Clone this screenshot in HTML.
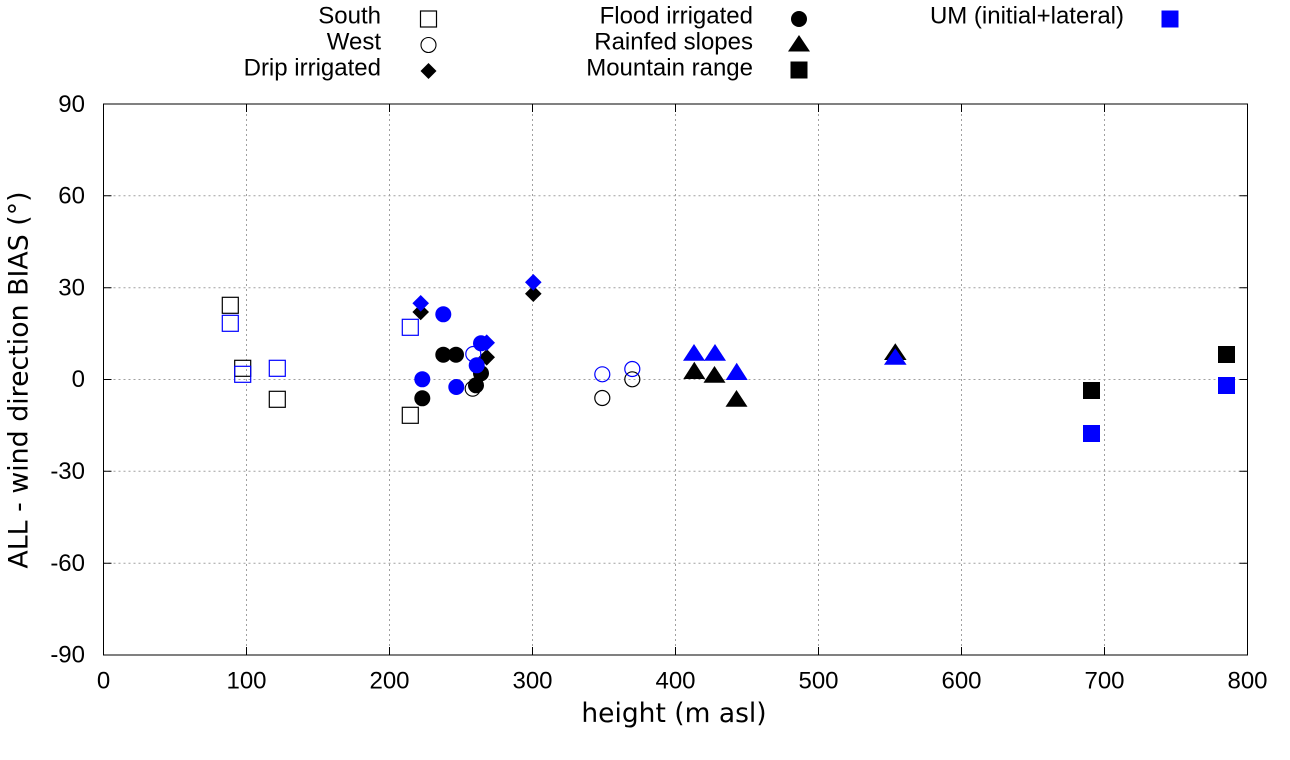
<!DOCTYPE html>
<html><head><meta charset="utf-8"><style>
html,body{margin:0;padding:0;background:#fff;}
svg{display:block;}
text{font-family:"Liberation Sans",Arial,sans-serif;fill:#000;}
.lab{font-family:"DejaVu Sans","Liberation Sans",sans-serif;}
</style></head><body>
<svg width="1290" height="760" viewBox="0 0 1290 760" xmlns="http://www.w3.org/2000/svg">
<rect x="0" y="0" width="1290" height="760" fill="#fff"/>
<!-- grid -->
<g stroke="#a0a0a0" stroke-width="1" stroke-dasharray="2,3" fill="none">
<line x1="246.5" y1="104" x2="246.5" y2="655"/>
<line x1="389.5" y1="104" x2="389.5" y2="655"/>
<line x1="532.5" y1="104" x2="532.5" y2="655"/>
<line x1="675.5" y1="104" x2="675.5" y2="655"/>
<line x1="818.5" y1="104" x2="818.5" y2="655"/>
<line x1="961.5" y1="104" x2="961.5" y2="655"/>
<line x1="1104.5" y1="104" x2="1104.5" y2="655"/>
<line x1="103.5" y1="195.8" x2="1247.5" y2="195.8"/>
<line x1="103.5" y1="287.7" x2="1247.5" y2="287.7"/>
<line x1="103.5" y1="379.5" x2="1247.5" y2="379.5"/>
<line x1="103.5" y1="471.3" x2="1247.5" y2="471.3"/>
<line x1="103.5" y1="563.2" x2="1247.5" y2="563.2"/>
</g>
<!-- ticks -->
<g stroke="#000" stroke-width="1">
<path d="M246.5 655v-8M389.5 655v-8M532.5 655v-8M675.5 655v-8M818.5 655v-8M961.5 655v-8M1104.5 655v-8
M246.5 104v8M389.5 104v8M532.5 104v8M675.5 104v8M818.5 104v8M961.5 104v8M1104.5 104v8
M103.5 195.8h8M103.5 287.7h8M103.5 379.5h8M103.5 471.3h8M103.5 563.2h8
M1247.5 195.8h-8M1247.5 287.7h-8M1247.5 379.5h-8M1247.5 471.3h-8M1247.5 563.2h-8"/>
</g>
<rect x="103.5" y="104" width="1144" height="551" fill="none" stroke="#000" stroke-width="1"/>
<!-- tick labels -->
<g font-size="24" text-anchor="middle">
<text x="103.5" y="688.5">0</text>
<text x="246.5" y="688.5">100</text>
<text x="389.5" y="688.5">200</text>
<text x="532.5" y="688.5">300</text>
<text x="675.5" y="688.5">400</text>
<text x="818.5" y="688.5">500</text>
<text x="961.5" y="688.5">600</text>
<text x="1104.5" y="688.5">700</text>
<text x="1247.5" y="688.5">800</text>
</g>
<g font-size="24" text-anchor="end">
<text x="85" y="112">90</text>
<text x="85" y="203.5">60</text>
<text x="85" y="295.4">30</text>
<text x="85" y="387.2">0</text>
<text x="85" y="479">-30</text>
<text x="85" y="570.9">-60</text>
<text x="85" y="662.7">-90</text>
</g>
<text class="lab" x="674" y="722" font-size="26.5" text-anchor="middle">height (m asl)</text>
<text class="lab" transform="translate(27.5,380) rotate(-90)" font-size="26.8" text-anchor="middle">ALL - wind direction BIAS (°)</text>
<!-- legend -->
<g font-size="24" text-anchor="end">
<text x="381" y="23.5">South</text>
<text x="381" y="49.5">West</text>
<text x="381" y="75.5">Drip irrigated</text>
<text x="753" y="23.5">Flood irrigated</text>
<text x="753" y="49.5">Rainfed slopes</text>
<text x="753" y="75.5">Mountain range</text>
<text x="1124" y="23.5">UM (initial+lateral)</text>
</g>
<rect x="420.5" y="11" width="16" height="16" fill="none" stroke="#000" stroke-width="1.2"/>
<circle cx="428.5" cy="45" r="7.5" fill="none" stroke="#000" stroke-width="1.1"/>
<path d="M428.5 63l8 8-8 8-8-8z" fill="#000"/>
<circle cx="799" cy="19" r="8" fill="#000"/>
<path d="M799 35l11 16.5h-22z" fill="#000"/>
<rect x="790.5" y="61.5" width="17" height="17" fill="#000"/>
<rect x="1161.5" y="10.5" width="17" height="17" fill="#00f"/>
<!-- black series -->
<g fill="none" stroke="#000" stroke-width="1.2">
<rect x="222.3" y="297.3" width="16" height="16"/>
<rect x="234.7" y="360.3" width="16" height="16"/>
<rect x="269.3" y="391.3" width="16" height="16"/>
<rect x="402.3" y="407.3" width="16" height="16"/>
<circle cx="602.3" cy="398" r="7.5"/>
<circle cx="632.3" cy="379.3" r="7.5"/>
</g>
<g fill="#000">
<circle cx="443.3" cy="354.7" r="8"/>
<circle cx="456" cy="354.7" r="8"/>
<circle cx="481" cy="373.3" r="8"/>
<circle cx="476" cy="385.3" r="8"/>
<circle cx="422.3" cy="398.3" r="8"/>
<path d="M420.7 303.7l8.3 8.3-8.3 8.3-8.3-8.3z"/>
<path d="M486.7 349l8.3 8.3-8.3 8.3-8.3-8.3z"/>
<path d="M533.3 285.4l8.3 8.3-8.3 8.3-8.3-8.3z"/>
<path d="M694.3 361.7l11 17.3h-22z"/>
<path d="M714.5 366l11 16.7h-22z"/>
<path d="M736.5 390l11 16.7h-22z"/>
<path d="M895.3 343.3l11.3 16.7h-22.6z"/>
<rect x="1083" y="382" width="17" height="17"/>
<rect x="1218" y="346" width="17" height="17"/>
</g>
<circle cx="472.7" cy="388.7" r="7.5" fill="none" stroke="#000" stroke-width="1.1"/>
<!-- blue series -->
<g fill="none" stroke="#00f" stroke-width="1.2">
<rect x="222.3" y="315.3" width="16" height="16"/>
<rect x="234.7" y="366.3" width="16" height="16"/>
<rect x="269.3" y="360.3" width="16" height="16"/>
<rect x="402.3" y="319.3" width="16" height="16"/>
<circle cx="602.3" cy="374.3" r="7.5"/>
<circle cx="632.3" cy="369" r="7.5"/>
<circle cx="473.3" cy="354" r="7.5"/>
</g>
<g fill="#00f">
<circle cx="443.3" cy="314.3" r="8"/>
<circle cx="422.3" cy="379.3" r="8"/>
<circle cx="456.3" cy="387" r="8"/>
<path d="M420.7 295l8.3 8.3-8.3 8.3-8.3-8.3z"/>
<path d="M486.7 334.4l8.3 8.3-8.3 8.3-8.3-8.3z"/>
<circle cx="481" cy="343.3" r="8"/>
<circle cx="476.7" cy="365.3" r="8"/>
<path d="M533.3 274l8.3 8.3-8.3 8.3-8.3-8.3z"/>
<path d="M694 344l11 16.7h-22z"/>
<path d="M715 344l11 16.7h-22z"/>
<path d="M736.7 362.7l11 17.3h-22z"/>
<path d="M895.3 348.3l11.3 16.4h-22.6z"/>
<rect x="1083" y="425" width="17" height="17"/>
<rect x="1218" y="377" width="17" height="17"/>
</g>
</svg>
</body></html>
